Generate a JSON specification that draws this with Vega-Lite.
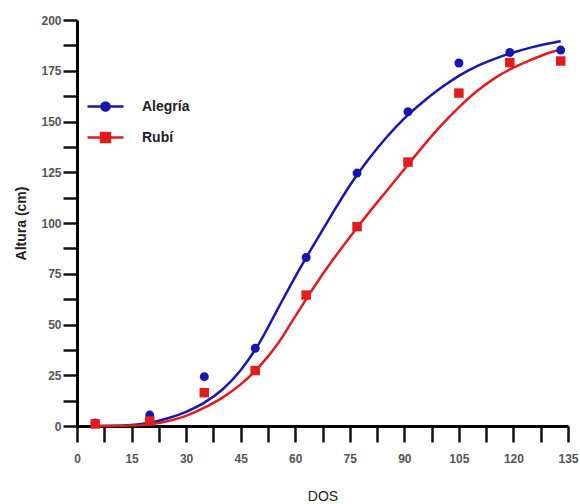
{
  "$schema": "https://vega.github.io/schema/vega-lite/v6.json",
  "width": 491,
  "height": 406,
  "autosize": "none",
  "padding": {"left": 77, "top": 20, "right": 12, "bottom": 78},
  "config": {"view": {"stroke": null}, "font": "Liberation Sans"},
  "datasets": {
    "points": [
      {"dds": 5, "altura": 1.5, "variedad": "Alegría"},
      {"dds": 20, "altura": 5.4, "variedad": "Alegría"},
      {"dds": 35, "altura": 24.3, "variedad": "Alegría"},
      {"dds": 49, "altura": 38.3, "variedad": "Alegría"},
      {"dds": 63, "altura": 83, "variedad": "Alegría"},
      {"dds": 77, "altura": 124.6, "variedad": "Alegría"},
      {"dds": 91, "altura": 154.8, "variedad": "Alegría"},
      {"dds": 105, "altura": 178.8, "variedad": "Alegría"},
      {"dds": 119, "altura": 184, "variedad": "Alegría"},
      {"dds": 133, "altura": 185.2, "variedad": "Alegría"},
      {"dds": 5, "altura": 1, "variedad": "Rubí"},
      {"dds": 20, "altura": 2.5, "variedad": "Rubí"},
      {"dds": 35, "altura": 16.4, "variedad": "Rubí"},
      {"dds": 49, "altura": 27.3, "variedad": "Rubí"},
      {"dds": 63, "altura": 64.5, "variedad": "Rubí"},
      {"dds": 77, "altura": 98.2, "variedad": "Rubí"},
      {"dds": 91, "altura": 130, "variedad": "Rubí"},
      {"dds": 105, "altura": 164, "variedad": "Rubí"},
      {"dds": 119, "altura": 179, "variedad": "Rubí"},
      {"dds": 133, "altura": 179.8, "variedad": "Rubí"}
    ],
    "curves": [
      {"dds": 5, "altura": 0, "variedad": "Alegría"},
      {"dds": 10, "altura": 0.1, "variedad": "Alegría"},
      {"dds": 15, "altura": 0.5, "variedad": "Alegría"},
      {"dds": 20, "altura": 1.6, "variedad": "Alegría"},
      {"dds": 25, "altura": 3.8, "variedad": "Alegría"},
      {"dds": 30, "altura": 7, "variedad": "Alegría"},
      {"dds": 35, "altura": 11.5, "variedad": "Alegría"},
      {"dds": 40, "altura": 18, "variedad": "Alegría"},
      {"dds": 45, "altura": 27.5, "variedad": "Alegría"},
      {"dds": 50, "altura": 40.5, "variedad": "Alegría"},
      {"dds": 55, "altura": 57, "variedad": "Alegría"},
      {"dds": 60, "altura": 73.5, "variedad": "Alegría"},
      {"dds": 65, "altura": 89, "variedad": "Alegría"},
      {"dds": 70, "altura": 104, "variedad": "Alegría"},
      {"dds": 75, "altura": 118.5, "variedad": "Alegría"},
      {"dds": 80, "altura": 131, "variedad": "Alegría"},
      {"dds": 85, "altura": 142, "variedad": "Alegría"},
      {"dds": 90, "altura": 151.5, "variedad": "Alegría"},
      {"dds": 95, "altura": 159.5, "variedad": "Alegría"},
      {"dds": 100, "altura": 166.5, "variedad": "Alegría"},
      {"dds": 105, "altura": 172.5, "variedad": "Alegría"},
      {"dds": 110, "altura": 177.3, "variedad": "Alegría"},
      {"dds": 115, "altura": 181, "variedad": "Alegría"},
      {"dds": 120, "altura": 184, "variedad": "Alegría"},
      {"dds": 125, "altura": 186.5, "variedad": "Alegría"},
      {"dds": 130, "altura": 188.5, "variedad": "Alegría"},
      {"dds": 133, "altura": 189.5, "variedad": "Alegría"},
      {"dds": 5, "altura": 0, "variedad": "Rubí"},
      {"dds": 10, "altura": 0, "variedad": "Rubí"},
      {"dds": 15, "altura": 0.2, "variedad": "Rubí"},
      {"dds": 20, "altura": 0.8, "variedad": "Rubí"},
      {"dds": 25, "altura": 2.4, "variedad": "Rubí"},
      {"dds": 30, "altura": 5, "variedad": "Rubí"},
      {"dds": 35, "altura": 9, "variedad": "Rubí"},
      {"dds": 40, "altura": 14, "variedad": "Rubí"},
      {"dds": 45, "altura": 20.5, "variedad": "Rubí"},
      {"dds": 50, "altura": 29, "variedad": "Rubí"},
      {"dds": 55, "altura": 40, "variedad": "Rubí"},
      {"dds": 60, "altura": 54, "variedad": "Rubí"},
      {"dds": 65, "altura": 68, "variedad": "Rubí"},
      {"dds": 70, "altura": 81, "variedad": "Rubí"},
      {"dds": 75, "altura": 93, "variedad": "Rubí"},
      {"dds": 80, "altura": 104.5, "variedad": "Rubí"},
      {"dds": 85, "altura": 115.5, "variedad": "Rubí"},
      {"dds": 90, "altura": 126.5, "variedad": "Rubí"},
      {"dds": 95, "altura": 137.5, "variedad": "Rubí"},
      {"dds": 100, "altura": 147.8, "variedad": "Rubí"},
      {"dds": 105, "altura": 157, "variedad": "Rubí"},
      {"dds": 110, "altura": 165, "variedad": "Rubí"},
      {"dds": 115, "altura": 171.5, "variedad": "Rubí"},
      {"dds": 120, "altura": 176.5, "variedad": "Rubí"},
      {"dds": 125, "altura": 180.5, "variedad": "Rubí"},
      {"dds": 130, "altura": 184, "variedad": "Rubí"},
      {"dds": 133, "altura": 185.5, "variedad": "Rubí"}
    ]
  },
  "layer": [
    {
      "data": {"name": "curves"},
      "mark": {"type": "line", "strokeWidth": 2.5, "interpolate": "monotone"},
      "encoding": {
        "x": {
          "field": "dds", "type": "quantitative",
          "scale": {"domain": [0, 135], "nice": false},
          "axis": {
            "title": "DOS",
            "values": [0, 7.5, 15, 22.5, 30, 37.5, 45, 52.5, 60, 67.5, 75, 82.5, 90, 97.5, 105, 112.5, 120, 127.5, 135],
            "tickCount": 60,
            "labelExpr": "datum.value % 15 === 0 ? datum.label : ''",
            "tickSize": 16,
            "tickWidth": 2.5,
            "tickColor": "#111111",
            "domainWidth": 3, "domainColor": "black",
            "grid": false,
            "labelFontSize": 12, "labelFontWeight": "bold", "labelColor": "#555",
            "labelPadding": 11, "labelFlush": false, "labelOverlap": false,
            "titleFontSize": 14, "titleFontWeight": "normal", "titleColor": "#222",
            "titlePadding": 25,
            "encode": {"ticks": {"update": {"y2": {"signal": "datum.value % 15 === 0 ? 16 : 8"}}}}
          }
        },
        "y": {
          "field": "altura", "type": "quantitative",
          "scale": {"domain": [0, 200], "nice": false},
          "axis": {
            "title": "Altura (cm)",
            "values": [0, 12.5, 25, 37.5, 50, 62.5, 75, 87.5, 100, 112.5, 125, 137.5, 150, 162.5, 175, 187.5, 200],
            "tickCount": 60,
            "labelExpr": "datum.value % 25 === 0 ? datum.label : ''",
            "tickSize": 14,
            "tickWidth": 2.5,
            "tickColor": "#111111",
            "domainWidth": 3, "domainColor": "black",
            "grid": false,
            "labelFontSize": 12, "labelFontWeight": "bold", "labelColor": "#555",
            "labelPadding": 2, "labelFlush": false, "labelOverlap": false,
            "titleFontSize": 14, "titleFontWeight": "bold", "titleColor": "#222",
            "titlePadding": 12
          }
        },
        "color": {
          "field": "variedad", "type": "nominal",
          "scale": {"domain": ["Alegría", "Rubí"], "range": ["#1616b0", "#e01c1c"]},
          "legend": {
            "title": null,
            "orient": "none",
            "legendX": 12,
            "legendY": 70,
            "labelFontSize": 14,
            "labelFontWeight": "bold",
            "labelColor": "#222",
            "symbolSize": 900,
            "labelOffset": 20,
            "rowPadding": 5,
            "symbolType": "M-1.2,0H1.2M-0.27,0A0.27,0.27,0,1,0,0.27,0A0.27,0.27,0,1,0,-0.27,0Z",
            "encode": {
              "symbols": {
                "update": {
                  "shape": {"signal": "datum.value === 'Rubí' ? 'M-1.2,0H1.2M-0.3,-0.3H0.3V0.3H-0.3Z' : 'M-1.2,0H1.2M-0.27,0A0.27,0.27,0,1,0,0.27,0A0.27,0.27,0,1,0,-0.27,0Z'"},
                  "fill": {"signal": "scale('color', datum.value)"},
                  "stroke": {"signal": "scale('color', datum.value)"},
                  "strokeWidth": {"value": 2.5},
                  "opacity": {"value": 1}
                }
              }
            }
          }
        }
      }
    },
    {
      "data": {"name": "points"},
      "transform": [{"filter": "datum.variedad === 'Alegría'"}],
      "mark": {"type": "point", "shape": "circle", "filled": true, "opacity": 1, "size": 80},
      "encoding": {
        "x": {"field": "dds", "type": "quantitative"},
        "y": {"field": "altura", "type": "quantitative"},
        "color": {"field": "variedad", "type": "nominal"}
      }
    },
    {
      "data": {"name": "points"},
      "transform": [{"filter": "datum.variedad === 'Rubí'"}],
      "mark": {"type": "point", "shape": "square", "filled": true, "opacity": 1, "size": 90},
      "encoding": {
        "x": {"field": "dds", "type": "quantitative"},
        "y": {"field": "altura", "type": "quantitative"},
        "color": {"field": "variedad", "type": "nominal"}
      }
    }
  ]
}
